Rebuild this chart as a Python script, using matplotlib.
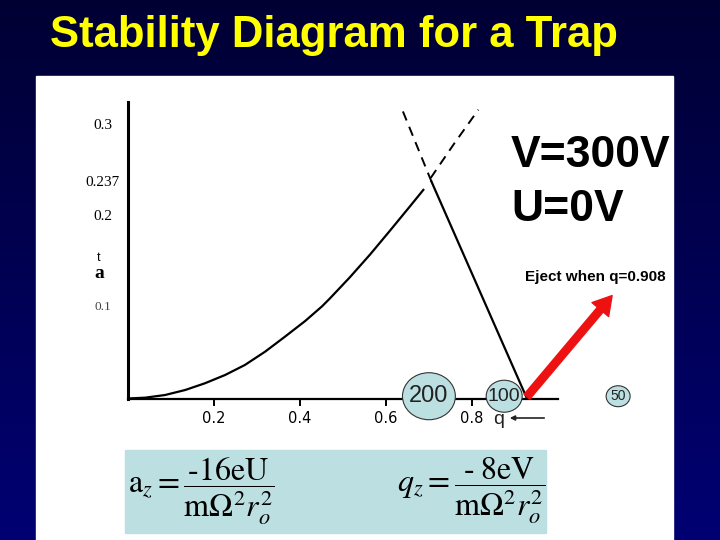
import numpy as np
import matplotlib.pyplot as plt
from matplotlib.patches import Rectangle, Ellipse

plt.rcParams['font.family'] = ['Liberation Sans', 'DejaVu Sans']
plt.rcParams['mathtext.fontset'] = 'stix'

# stability boundary (q, a)
left_q = [0, 0.041, 0.087, 0.134, 0.180, 0.227, 0.273, 0.320, 0.366, 0.413, 0.452,
          0.471, 0.517, 0.564, 0.610, 0.657, 0.688]
left_a = [0, 0.0009, 0.0038, 0.0093, 0.0167, 0.0258, 0.0368, 0.0514, 0.0678, 0.0850, 0.1010,
          0.1100, 0.133, 0.158, 0.184, 0.211, 0.229]
left_ext_q = [0.705, 0.76, 0.816]
left_ext_a = [0.242, 0.28, 0.317]
right_q = [0.707, 0.929]
right_a = [0.238, 0.0]
right_ext_q = [0.707, 0.638]
right_ext_a = [0.238, 0.318]

ion_masses = ['200', '100', '50']
ion_q = [0.701, 0.876, 1.141]

xticks = [0.2, 0.4, 0.6, 0.8]
xtick_labels = ['0.2', '0.4', '0.6', '0.8']
yticks = [0.3, 0.237, 0.2, 0.1]
ytick_labels = ['0.3', '0.237', '0.2', '0.1']

eject_q = 0.908

W, H = 720, 540
fx = lambda x: x / W
fy = lambda y: 1 - y / H

fig = plt.figure(figsize=(7.2, 5.4), dpi=100)

# slide background
bg = fig.add_axes([0, 0, 1, 1])
grad = np.linspace(0, 1, 256)
cols = np.zeros((256, 1, 3))
cols[:, 0, 2] = 0.2 + 0.25 * grad
bg.imshow(cols, aspect='auto', extent=[0, 1, 0, 1], origin='upper')
bg.set_xlim(0, 1)
bg.set_ylim(0, 1)
bg.axis('off')
bg.add_patch(Rectangle((fx(36), 0), fx(673) - fx(36), fy(76), color='white', zorder=2))
bg.add_patch(Rectangle((fx(125), fy(533)), fx(546) - fx(125), fy(450) - fy(533),
                       color='#bcdfe2', zorder=3))

fig.text(fx(50), fy(47), 'Stability Diagram for a Trap', color='#ffff00',
         fontsize=31.5, fontweight='bold', va='baseline', ha='left')

# diagram axes
ax = fig.add_axes([fx(127.5), fy(398.5), 430 / W, 0.325 * 911 / H])
ax.patch.set_alpha(0)
ax.set_xlim(0, 1.0)
ax.set_ylim(0, 0.325)
for s in ['top', 'right']:
    ax.spines[s].set_visible(False)
ax.spines['left'].set_linewidth(2.2)
ax.spines['bottom'].set_linewidth(1.6)

ax.plot(left_q, left_a, color='black', lw=1.6, solid_joinstyle='round')
ax.plot(left_ext_q, left_ext_a, color='black', lw=1.4, ls=(0, (5, 3.5)))
ax.plot(right_q, right_a, color='black', lw=1.6)
ax.plot(right_ext_q, right_ext_a, color='black', lw=1.4, ls=(0, (5, 3.5)))

ax.set_xticks(xticks)
ax.set_xticklabels(xtick_labels, family=['Liberation Sans Narrow', 'DejaVu Sans'], fontsize=10.5)
ax.tick_params(axis='x', direction='out', length=5, width=1.4, pad=4, color='black')
ax.set_yticks([])
ytr = ax.get_yaxis_transform()
for v, lab in zip(yticks, ytick_labels):
    ax.text(-24.5 / 430, v, lab, transform=ytr, ha='center', va='center',
            family=['Liberation Serif'], fontsize=11 if lab != '0.1' else 9.5,
            color='black' if lab != '0.1' else '#444444')
fig.text(fx(99), fy(273), 'a', ha='center', va='center',
         family=['Liberation Serif'], fontweight='bold', fontsize=14)
fig.text(fx(99), fy(258), 't', ha='center', va='center', fontsize=9)

# ion clouds
sizes = [(0.123, 0.0516, 17), (0.0837, 0.0351, 14), (0.0558, 0.023, 10)]
for lab, q, (w, h, fs) in zip(ion_masses, ion_q, sizes):
    ax.add_patch(Ellipse((q, 0.0025), w, h, facecolor='#bcdfe2', edgecolor='#333333',
                         lw=0.8, zorder=5, clip_on=False))
    ax.text(q, 0.0025, lab, ha='center', va='center', fontsize=fs, color='#222222',
            zorder=6, clip_on=False)

# q axis label
fig.text(fx(499), fy(420), 'q', fontsize=14, ha='center', va='center', color='#222222')
ax.annotate('', xy=(fx(507), fy(418)), xytext=(fx(547), fy(418)),
            xycoords='figure fraction', textcoords='figure fraction',
            arrowprops=dict(arrowstyle='-|>', color='#222222', lw=1.2, mutation_scale=7))

# eject arrow
ax.annotate('', xy=(1.127, 0.113), xytext=(0.929, 0.002),
            arrowprops=dict(arrowstyle='simple,head_width=1.3,head_length=1.1,tail_width=0.45',
                            color='#ee1111', mutation_scale=12, shrinkA=0, shrinkB=0),
            annotation_clip=False)
fig.text(fx(595), fy(277), 'Eject when q=%.3f' % eject_q, fontsize=11, fontweight='bold',
         ha='center', va='center')

fig.text(fx(511), fy(167), 'V=300V', fontsize=32, fontweight='bold', va='baseline', ha='left')
fig.text(fx(511), fy(221), 'U=0V', fontsize=32, fontweight='bold', va='baseline', ha='left')

# formulas
fig.text(fx(128), fy(491), '$\\mathrm{a}_z = \\dfrac{\\mathrm{\u201016eU}}{\\mathrm{m}\\Omega^2 r_o^2}$',
         fontsize=23, ha='left', va='center')
fig.text(fx(397), fy(491), '$q_z = \\dfrac{\\mathrm{\u2010\\;8eV}}{\\mathrm{m}\\Omega^2 r_o^2}$',
         fontsize=23, ha='left', va='center')

plt.savefig('out.png', dpi=100)
